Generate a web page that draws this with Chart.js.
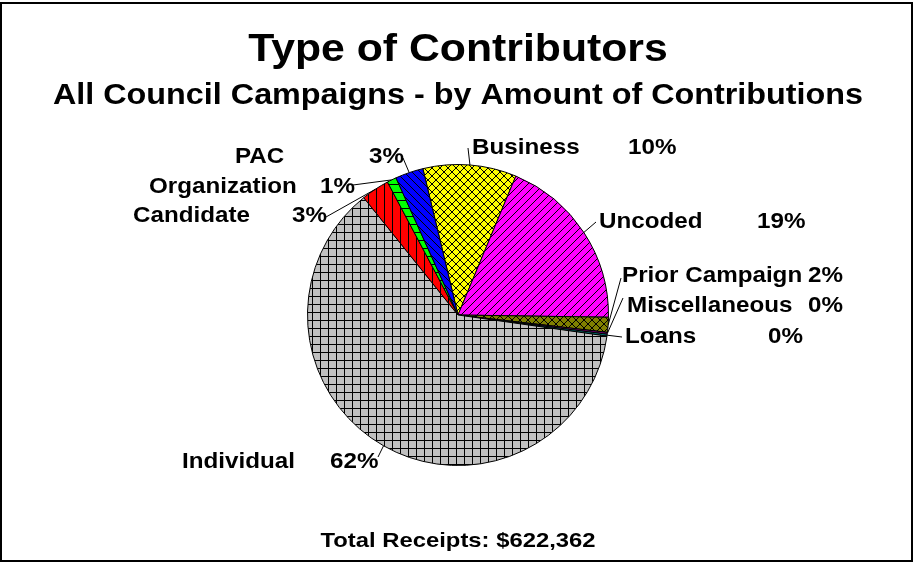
<!DOCTYPE html>
<html>
<head>
<meta charset="utf-8">
<title>Type of Contributors</title>
<script src="https://cdn.jsdelivr.net/npm/chart.js@4.4.0/dist/chart.umd.min.js"></script>
<style>
    body { margin: 0; background: #fff; }
    #wrap { width: 914px; height: 563px; }
</style>
</head>
<body>
<div id="wrap"><canvas id="pieChart" width="914" height="563"></canvas></div>
<script>
// Chart data
const categories = ['Business', 'Uncoded', 'Prior Campaign', 'Miscellaneous', 'Loans', 'Individual', 'Candidate', 'Organization', 'PAC'];
const shares = [10.0, 18.9, 1.6, 0.2, 0.2, 61.8, 3.0, 1.0, 3.0];
const shareLabels = ['10%', '19%', '2%', '0%', '0%', '62%', '3%', '1%', '3%'];
const chartTitle = 'Type of Contributors';
const chartSubtitle = 'All Council Campaigns - by Amount of Contributions';
const footerText = 'Total Receipts: $622,362';

// Fill colours and hatch styles for each slice
const sliceColors = ['#ffff00', '#ff00ff', '#808000', '#800080', '#008080', '#c0c0c0', '#ff0000', '#00ff00', '#0000ff'];
const sliceHatch = ['cross', 'slash', 'cross', 'none', 'none', 'grid', 'vertical', 'horizontal', 'backslash'];

// Where each label sits: name x, percent x, middle y, end of leader line
const labelLayout = [
    { nx: 472, px: 628, y: 148, lx: 468, ly: 148 },
    { nx: 599, px: 757, y: 222, lx: 596, ly: 222 },
    { nx: 622, px: 808, y: 276, lx: 621, ly: 278 },
    { nx: 627, px: 808, y: 306, lx: 623, ly: 298 },
    { nx: 625, px: 768, y: 337, lx: 622, ly: 337 },
    { nx: 182, px: 330, y: 462, lx: 378, ly: 457 },
    { nx: 133, px: 292, y: 216, lx: 326, ly: 217 },
    { nx: 149, px: 320, y: 187, lx: 353, ly: 185 },
    { nx: 235, px: 369, y: 157, lx: 403, ly: 158 }
];

const FONT = '"Liberation Sans", Arial, sans-serif';

function makePattern(color, kind) {
    if (kind === 'none') return color;
    const size = 8;
    const c = document.createElement('canvas');
    c.width = size;
    c.height = size;
    const g = c.getContext('2d');
    g.fillStyle = color;
    g.fillRect(0, 0, size, size);
    g.strokeStyle = '#000';
    g.lineWidth = 1;
    g.beginPath();
    if (kind === 'grid' || kind === 'vertical') {
        g.moveTo(0.5, 0); g.lineTo(0.5, size);
    }
    if (kind === 'grid' || kind === 'horizontal') {
        g.moveTo(0, 0.5); g.lineTo(size, 0.5);
    }
    if (kind === 'slash' || kind === 'cross') {
        g.moveTo(-1, size + 1); g.lineTo(size + 1, -1);
        g.moveTo(-1, 1); g.lineTo(1, -1);
        g.moveTo(size - 1, size + 1); g.lineTo(size + 1, size - 1);
    }
    if (kind === 'backslash' || kind === 'cross') {
        g.moveTo(-1, -1); g.lineTo(size + 1, size + 1);
        g.moveTo(size - 1, -1); g.lineTo(size + 1, 1);
        g.moveTo(-1, size - 1); g.lineTo(1, size + 1);
    }
    g.stroke();
    return g.createPattern(c, 'repeat');
}

// the original lettering runs a bit wider than Arial, so stretch it sideways
function wideText(ctx, text, x, y, stretch = 1.1) {
    ctx.save();
    ctx.translate(x, y);
    ctx.scale(stretch, 1);
    ctx.fillText(text, 0, 0);
    ctx.restore();
}

// Titles, frame, labels and leader lines
const decorPlugin = {
    id: 'decor',
    afterDraw(chart) {
        const ctx = chart.ctx;
        ctx.save();
        ctx.strokeStyle = '#000';
        ctx.lineWidth = 2;
        ctx.strokeRect(1, 3, 911, 558);

        ctx.fillStyle = '#000';
        ctx.textAlign = 'center';
        ctx.textBaseline = 'middle';
        ctx.font = 'bold 38px ' + FONT;
        wideText(ctx, chartTitle, 458, 51, 1.125);
        ctx.font = 'bold 29px ' + FONT;
        wideText(ctx, chartSubtitle, 458, 96, 1.115);
        ctx.font = 'bold 21px ' + FONT;
        wideText(ctx, footerText, 458, 541, 1.135);

        const arcs = chart.getDatasetMeta(0).data;
        ctx.textAlign = 'left';
        ctx.font = 'bold 22px ' + FONT;
        ctx.lineWidth = 1;
        arcs.forEach((arc, i) => {
            const pos = labelLayout[i];
            const mid = (arc.startAngle + arc.endAngle) / 2;
            const ax = arc.x + Math.cos(mid) * arc.outerRadius;
            const ay = arc.y + Math.sin(mid) * arc.outerRadius;
            ctx.beginPath();
            ctx.moveTo(pos.lx, pos.ly);
            ctx.lineTo(ax, ay);
            ctx.stroke();
            wideText(ctx, categories[i], pos.nx, pos.y);
            wideText(ctx, shareLabels[i], pos.px, pos.y);
        });
        ctx.restore();
    }
};

document.addEventListener('DOMContentLoaded', () => {
    const canvas = document.getElementById('pieChart');

    new Chart(canvas, {
        type: 'pie',
        data: {
            labels: categories,
            datasets: [{
                data: shares,
                backgroundColor: sliceColors.map((c, i) => makePattern(c, sliceHatch[i])),
                borderColor: '#000',
                borderWidth: 1
            }]
        },
        options: {
            responsive: false,
            animation: false,
            rotation: -13.5,
            layout: {
                padding: { top: 164, bottom: 97, left: 200, right: 198 }
            },
            plugins: {
                legend: { display: false },
                tooltip: { enabled: false },
                title: { display: false }
            },
            events: []
        },
        plugins: [decorPlugin]
    });
});
</script>
</body>
</html>
